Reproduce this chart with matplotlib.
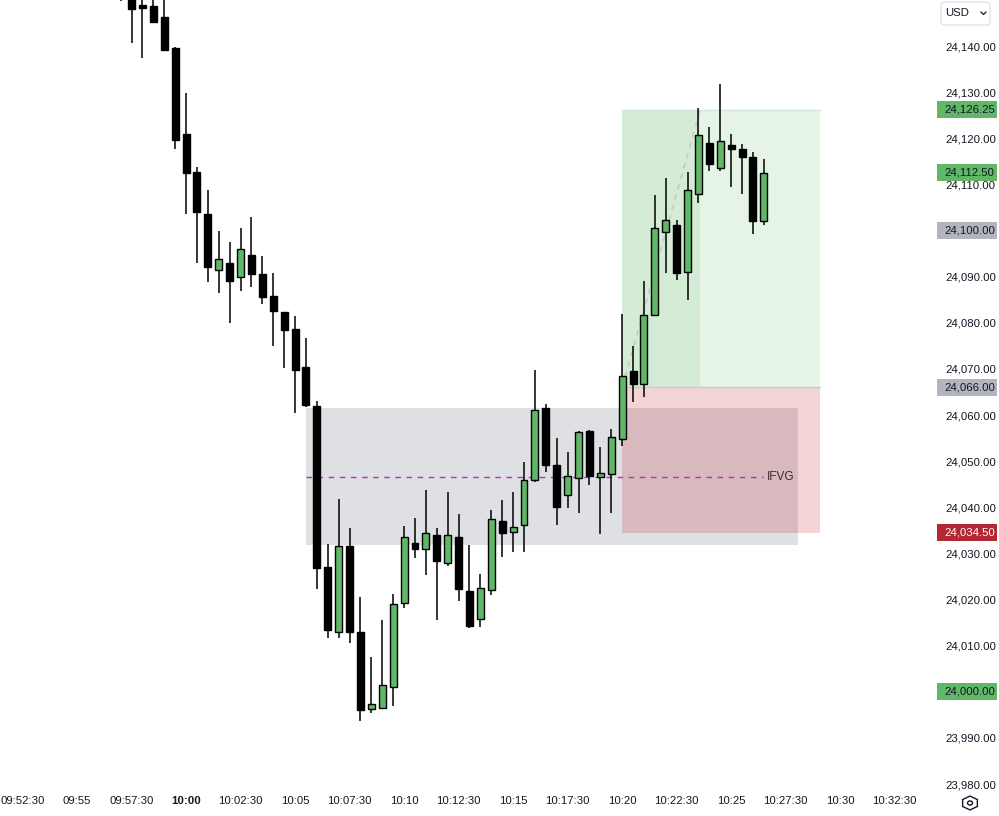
import matplotlib
matplotlib.use("Agg")
import matplotlib.pyplot as plt
import matplotlib.dates as mdates
import matplotlib.transforms as mtransforms
from matplotlib.patches import Rectangle, FancyBboxPatch, RegularPolygon, Circle
from matplotlib.lines import Line2D
import pandas as pd

# ---------------- data ----------------
start_time = "2024-01-02 09:57:00"
bar_seconds = 30

opens = [24156, 24152, 24148.5, 24148.75, 24146.25, 24139.5, 24121, 24112.75, 24103.5, 24091.5,
         24093, 24090, 24094.75, 24090.5, 24085.75, 24082.25, 24078.75, 24070.5, 24062, 24027,
         24013, 24031.5, 24013, 23996.25, 23996.5, 24001, 24019.25, 24032.25, 24031, 24034,
         24028, 24033.5, 24021.75, 24015.75, 24022, 24037, 24034.75, 24036.25, 24046, 24061.5,
         24049.25, 24042.75, 24046.25, 24056.5, 24046.5, 24047.25, 24054.75, 24069.5, 24066.75, 24081.75,
         24099.75, 24101.25, 24091, 24108, 24119, 24113.5, 24118.5, 24117.75, 24116, 24102]
highs = [24160, 24154, 24151.5, 24151.5, 24150.5, 24139.75, 24129.75, 24113.75, 24108.75, 24100,
         24097.5, 24100.5, 24103, 24094.5, 24090.75, 24082.25, 24081.5, 24076.75, 24063, 24032,
         24041.75, 24035.5, 24020.5, 24007.5, 24015.5, 24021.25, 24036, 24037.75, 24043.75, 24035.5,
         24043.25, 24038.5, 24031.75, 24025.5, 24039.5, 24041.5, 24043.25, 24049.75, 24069.75, 24062.5,
         24055, 24052, 24056.5, 24056.75, 24053, 24057, 24082, 24075, 24089, 24107.75,
         24111.5, 24102.25, 24112.75, 24126.5, 24122.5, 24131.75, 24121, 24118.75, 24117, 24115.5]
lows = [24149.75, 24140.75, 24137.5, 24145.25, 24139.25, 24117.75, 24103.5, 24093, 24088.75, 24086.5,
        24080, 24087, 24087.75, 24084, 24075, 24070.25, 24060.5, 24061.75, 24022.25, 24011.75,
        24011.75, 24010.5, 23993.75, 23995.5, 23996.25, 23997, 24018.25, 24029, 24025.25, 24015.5,
        24027.25, 24019.75, 24013.75, 24014, 24021, 24029.25, 24030.25, 24030.25, 24045.5, 24047.75,
        24036.25, 24039.75, 24038.75, 24044.75, 24034.25, 24038.75, 24053.25, 24062.75, 24064, 24081.5,
        24090.75, 24089.25, 24085, 24106, 24113, 24113, 24109.5, 24108, 24099.25, 24101.25]
closes = [24153, 24148, 24148.25, 24145.25, 24139.25, 24119.75, 24112.5, 24104, 24092, 24093.75,
          24089, 24096, 24090.5, 24085.5, 24082.5, 24078.5, 24069.75, 24062.25, 24026.75, 24013.5,
          24031.5, 24013, 23996, 23997.25, 24001.5, 24019, 24033.5, 24031, 24034.5, 24028.25,
          24034, 24022.25, 24014.25, 24022.5, 24037.5, 24034.5, 24035.75, 24046, 24061, 24049.25,
          24040, 24046.75, 24056.25, 24046.75, 24047.5, 24055.25, 24068.5, 24066.75, 24081.75, 24100.5,
          24102.25, 24090.75, 24108.75, 24120.75, 24114.5, 24119.5, 24117.75, 24116, 24102, 24112.5]

# IFVG zone
fvg_start, fvg_end = "2024-01-02 10:05:30", "2024-01-02 10:28:05"
fvg_top, fvg_bottom = 24061.5, 24031.75
fvg_line_end = "2024-01-02 10:26:28"
fvg_label = "IFVG"

# Long position tool
pos_start, pos_end = "2024-01-02 10:20:00", "2024-01-02 10:29:05"
pos_hit = "2024-01-02 10:23:35"
entry_price, target_price, stop_price = 24066.00, 24126.25, 24034.50

# axis
price_ticks = list(range(23980, 24141, 10))
time_tick_start, time_tick_end = "2024-01-02 09:52:30", "2024-01-02 10:32:30"
view_start, view_end = "2024-01-02 09:51:28", "2024-01-02 10:34:21"
price_min, price_max = 23978.7, 24150.0

# highlighted price labels (value, background, text colour)
price_badges = [(24126.25, "#5fb767", "#131722"),
                (24112.50, "#5fb767", "#131722"),
                (24100.00, "#b2b5be", "#131722"),
                (24066.00, "#b2b5be", "#131722"),
                (24034.50, "#b22833", "#ffffff"),
                (24000.00, "#5fb767", "#131722")]

# ---------------- figure ----------------
W, H = 999, 816
fig = plt.figure(figsize=(W / 100, H / 100), dpi=100)
fig.patch.set_facecolor("white")
ax = fig.add_axes([0, 26 / H, 935 / W, 790 / H])
ax.set_facecolor("white")
for s in ax.spines.values():
    s.set_visible(False)

FONT = "Liberation Sans"
TXT = "#131722"

times = pd.date_range(start_time, periods=len(opens), freq=f"{bar_seconds}s")
xs = mdates.date2num(times)
bar_w = bar_seconds / 86400.0
body_w = bar_w * 0.64

def d2n(s):
    return mdates.date2num(pd.Timestamp(s))

# zones
fx0, fx1 = d2n(fvg_start), d2n(fvg_end)
px0, px1, phit = d2n(pos_start), d2n(pos_end), d2n(pos_hit)

ax.add_patch(Rectangle((fx0, fvg_bottom), fx1 - fx0, fvg_top - fvg_bottom,
                       facecolor="#dfe0e4", edgecolor="none", zorder=1))
ax.add_patch(Rectangle((px0, entry_price), px1 - px0, target_price - entry_price,
                       facecolor="#e6f4e6", edgecolor="none", zorder=1.1))
ax.add_patch(Rectangle((px0, entry_price), phit - px0, target_price - entry_price,
                       facecolor="#d4ebd6", edgecolor="none", zorder=1.2))
ax.add_patch(Rectangle((px0, stop_price), px1 - px0, entry_price - stop_price,
                       facecolor="#f2d4d7", edgecolor="none", zorder=1.1))
# overlap of FVG and stop zone
ox0, ox1 = max(fx0, px0), min(fx1, px1)
oy0, oy1 = max(fvg_bottom, stop_price), min(fvg_top, entry_price)
ax.add_patch(Rectangle((ox0, oy0), ox1 - ox0, oy1 - oy0,
                       facecolor="#d8b9be", edgecolor="none", zorder=1.3))
ax.plot([px0, px1], [entry_price, entry_price], color="#c9c9cc", lw=1, zorder=1.4)
ax.plot([px0, px1], [target_price, target_price], color="#d0e6d2", lw=1, zorder=1.4)
ax.plot([px0, phit], [entry_price, target_price], color="#c6cbc8", lw=1.3,
        dashes=(3, 3), zorder=1.5)

# IFVG midline + label
mid = (fvg_top + fvg_bottom) / 2
ax.plot([fx0, d2n(fvg_line_end)], [mid, mid], color="#b42fc4", lw=1,
        dashes=(4, 4), zorder=1.6)
ax.text(d2n(fvg_line_end) + 0.35 * bar_w, mid, fvg_label, fontsize=8.5, family=FONT,
        color="#3a2a2f", va="center", ha="left", zorder=6)

# candles
for x, o, h, l, c in zip(xs, opens, highs, lows, closes):
    up = c >= o
    ax.plot([x, x], [l, h], color="black", lw=1.1, zorder=3, solid_capstyle="butt")
    bottom = min(o, c)
    height = max(abs(c - o), 0.6)
    ax.add_patch(Rectangle((x - body_w / 2, bottom), body_w, height,
                           facecolor="#5fb767" if up else "black",
                           edgecolor="black", lw=1.0, zorder=4))

ax.set_xlim(d2n(view_start), d2n(view_end))
ax.set_ylim(price_min, price_max)

# x ticks
tticks = pd.date_range(time_tick_start, time_tick_end, freq="150s")
ax.set_xticks(mdates.date2num(tticks))
tlabels = [t.strftime("%H:%M") if t.second == 0 else t.strftime("%H:%M:%S") for t in tticks]
ax.set_xticklabels(tlabels, fontsize=8.2, family=FONT, color=TXT)
for lab, t in zip(ax.get_xticklabels(), tticks):
    if t.minute == 0 and t.second == 0:
        lab.set_fontweight("bold")
ax.tick_params(axis="x", length=0, pad=4.5)

# y ticks on right
ax.yaxis.tick_right()
ax.set_yticks(price_ticks)
ax.set_yticklabels([f"{v:,.2f}" for v in price_ticks], fontsize=8.2, family=FONT, color=TXT)
ax.tick_params(axis="y", length=0, pad=7.5)

# price badges
btr = mtransforms.blended_transform_factory(fig.transFigure, ax.transData)
ppx = (price_max - price_min) / 790.0
for val, bg, fg in price_badges:
    ax.add_patch(Rectangle((937 / W, val - 8.5 * ppx), 60 / W, 17 * ppx, transform=btr,
                           facecolor=bg, edgecolor="none", clip_on=False, zorder=10))
    ax.text(944 / W, val, f"{val:,.2f}", transform=btr, fontsize=8.2, family=FONT,
            color=fg, va="center", ha="left", zorder=11, clip_on=False)

# USD selector
fig.patches.append(FancyBboxPatch((941 / W, 1 - 25 / H), 49 / W, 23 / H,
                                  boxstyle="round,pad=0,rounding_size=0.004",
                                  transform=fig.transFigure, facecolor="white",
                                  edgecolor="#e0e3eb", lw=1))
fig.text(945 / W, 1 - 13 / H, "USD", fontsize=8.2, family=FONT, color=TXT, va="center", ha="left")
fig.add_artist(Line2D([981 / W, 983.5 / W, 986 / W], [1 - 12 / H, 1 - 14.5 / H, 1 - 12 / H],
                      transform=fig.transFigure, color=TXT, lw=0.9))

# settings icon
fig.add_artist(RegularPolygon((970 / W, 1 - 803 / H), numVertices=6, radius=0.0085,
                              orientation=0, transform=fig.transFigure,
                              facecolor="none", edgecolor=TXT, lw=1))
fig.add_artist(Circle((970 / W, 1 - 803 / H), 0.0025, transform=fig.transFigure,
                      facecolor="none", edgecolor=TXT, lw=1))

fig.savefig("out.png", dpi=100, facecolor="white")
